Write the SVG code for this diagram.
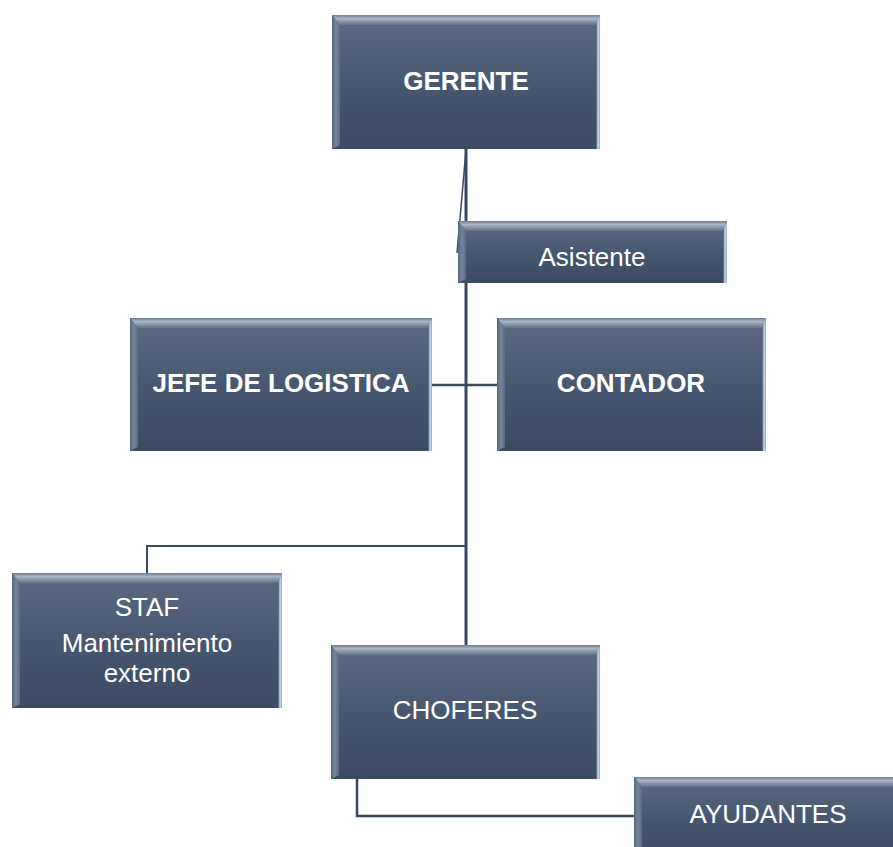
<svg xmlns="http://www.w3.org/2000/svg" width="893" height="847" viewBox="0 0 893 847">
<defs>
<linearGradient id="gFace" x1="0" y1="0" x2="0" y2="1">
<stop offset="0" stop-color="#5c6b82"/>
<stop offset="0.55" stop-color="#475670"/>
<stop offset="1" stop-color="#3c4a63"/>
</linearGradient>
<linearGradient id="gTop" x1="0" y1="0" x2="0" y2="1">
<stop offset="0" stop-color="#6f7d92"/>
<stop offset="0.35" stop-color="#a9b5c4"/>
<stop offset="1" stop-color="#63728a"/>
</linearGradient>
<linearGradient id="gLeft" x1="0" y1="0" x2="1" y2="0">
<stop offset="0" stop-color="#56657c"/>
<stop offset="0.5" stop-color="#76859a"/>
<stop offset="1" stop-color="#5a6980"/>
</linearGradient>
<linearGradient id="gRight" x1="0" y1="0" x2="1" y2="0">
<stop offset="0" stop-color="#3e4c64"/>
<stop offset="0.5" stop-color="#c9def4"/>
<stop offset="1" stop-color="#8ea4bf"/>
</linearGradient>
</defs>
<style>
.face{fill:url(#gFace);}
.bt{fill:url(#gTop);}
.bl{fill:url(#gLeft);}
.br{fill:url(#gRight);}
.t{font-family:"Liberation Sans",Arial,sans-serif;font-size:26px;fill:#ffffff;text-anchor:middle;}
.b{font-weight:bold;}
.c{fill:none;stroke:#3a4960;stroke-linecap:butt;}
</style>
<g id="connectors">
<line class="c" x1="466" y1="149" x2="466" y2="645" stroke-width="3"/>
<line class="c" x1="466" y1="150" x2="457" y2="253" stroke-width="1.5"/>
<line class="c" x1="432" y1="385" x2="497" y2="385" stroke-width="2.5"/>
<path class="c" d="M466 546 H147 V573" stroke-width="2"/>
<path class="c" d="M357 779 V816 H634" stroke-width="2.5"/>
</g>
<g id="gerente">
<rect class="face" x="332" y="15" width="268" height="134"/>
<polygon class="bt" points="332,15 600,15 596,25 340,25"/>
<polygon class="bl" points="332,15 340,25 340,145 332,149"/>
<polygon class="br" points="600,15 600,149 596,149 596,25"/>
<text class="t b" x="466" y="90">GERENTE</text>
</g>
<g id="asistente">
<rect class="face" x="458" y="221" width="269" height="62"/>
<polygon class="bt" points="458,221 727,221 723,231 466,231"/>
<polygon class="bl" points="458,221 466,231 466,279 458,283"/>
<polygon class="br" points="727,221 727,283 723,283 723,231"/>
<text class="t" x="592" y="266">Asistente</text>
</g>
<g id="jefe">
<rect class="face" x="130" y="318" width="302" height="133"/>
<polygon class="bt" points="130,318 432,318 428,328 138,328"/>
<polygon class="bl" points="130,318 138,328 138,447 130,451"/>
<polygon class="br" points="432,318 432,451 428,451 428,328"/>
<text class="t b" x="281" y="392">JEFE DE LOGISTICA</text>
</g>
<g id="contador">
<rect class="face" x="497" y="318" width="269" height="133"/>
<polygon class="bt" points="497,318 766,318 762,328 505,328"/>
<polygon class="bl" points="497,318 505,328 505,447 497,451"/>
<polygon class="br" points="766,318 766,451 762,451 762,328"/>
<text class="t b" x="631" y="392">CONTADOR</text>
</g>
<g id="staf">
<rect class="face" x="12" y="573" width="270" height="135"/>
<polygon class="bt" points="12,573 282,573 278,583 20,583"/>
<polygon class="bl" points="12,573 20,583 20,704 12,708"/>
<polygon class="br" points="282,573 282,708 278,708 278,583"/>
<text class="t" x="147" y="616">STAF</text>
<text class="t" x="147" y="652">Mantenimiento</text>
<text class="t" x="147" y="682">externo</text>
</g>
<g id="choferes">
<rect class="face" x="331" y="645" width="269" height="134"/>
<polygon class="bt" points="331,645 600,645 596,655 339,655"/>
<polygon class="bl" points="331,645 339,655 339,775 331,779"/>
<polygon class="br" points="600,645 600,779 596,779 596,655"/>
<text class="t" x="465" y="719">CHOFERES</text>
</g>
<g id="ayudantes">
<rect class="face" x="634" y="777" width="270" height="80"/>
<polygon class="bt" points="634,777 904,777 900,787 642,787"/>
<polygon class="bl" points="634,777 642,787 642,857 634,857"/>
<text class="t" x="768" y="823">AYUDANTES</text>
</g>
</svg>
